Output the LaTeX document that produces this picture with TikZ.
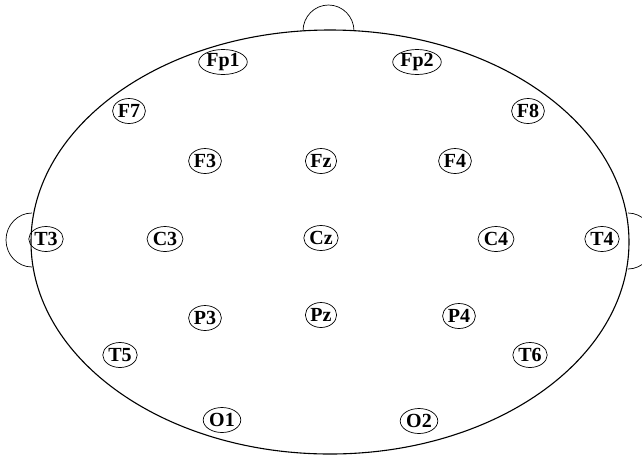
\documentclass[tikz,border=0pt]{standalone}
\usepackage{fontspec}
\setmainfont{Liberation Serif}
\usetikzlibrary{shapes.geometric}
\begin{document}
\begin{tikzpicture}[x=1pt,y=-1pt,
  electrode/.style={draw, ellipse, line width=0.7pt, inner xsep=0.5pt, inner ysep=0pt,
    minimum height=25pt, font=\fontsize{20}{20}\selectfont\bfseries},
  headline/.style={line width=1.1pt},
  earline/.style={line width=0.7pt}]
\useasboundingbox (0,0) rectangle (642,456);
\clip (0,0) rectangle (642,456);
\fill[white] (0,0) rectangle (642,456);
% head
\draw[headline] (330,242) ellipse [x radius=299, y radius=212];
% ears and nose
\draw[earline] (303,31) arc [start angle=180, end angle=360, x radius=25.5, y radius=26];
\draw[earline] (32,213) arc [start angle=270, end angle=90, x radius=26, y radius=27];
\draw[earline] (628,213) arc [start angle=-90, end angle=90, x radius=26, y radius=28];
% electrodes
\node[electrode] (Fp1) at (223,62) {Fp1};
\node[electrode] (Fp2) at (417,62) {Fp2};
\node[electrode] (F7) at (129,111) {F7};
\node[electrode] (F8) at (528,111) {F8};
\node[electrode] (F3) at (205,161) {F3};
\node[electrode] (Fz) at (321,161) {Fz};
\node[electrode] (F4) at (455,161) {F4};
\node[electrode] (T3) at (46,239) {T3};
\node[electrode] (C3) at (165,239) {C3};
\node[electrode] (Cz) at (321,238) {Cz};
\node[electrode] (C4) at (496,239) {C4};
\node[electrode] (T4) at (602,239) {T4};
\node[electrode] (P3) at (205,318) {P3};
\node[electrode] (Pz) at (321,315) {Pz};
\node[electrode] (P4) at (459,316) {P4};
\node[electrode] (T5) at (120,355) {T5};
\node[electrode] (T6) at (530,355) {T6};
\node[electrode] (O1) at (222,420) {O1};
\node[electrode] (O2) at (419,421) {O2};
\end{tikzpicture}
\end{document}
